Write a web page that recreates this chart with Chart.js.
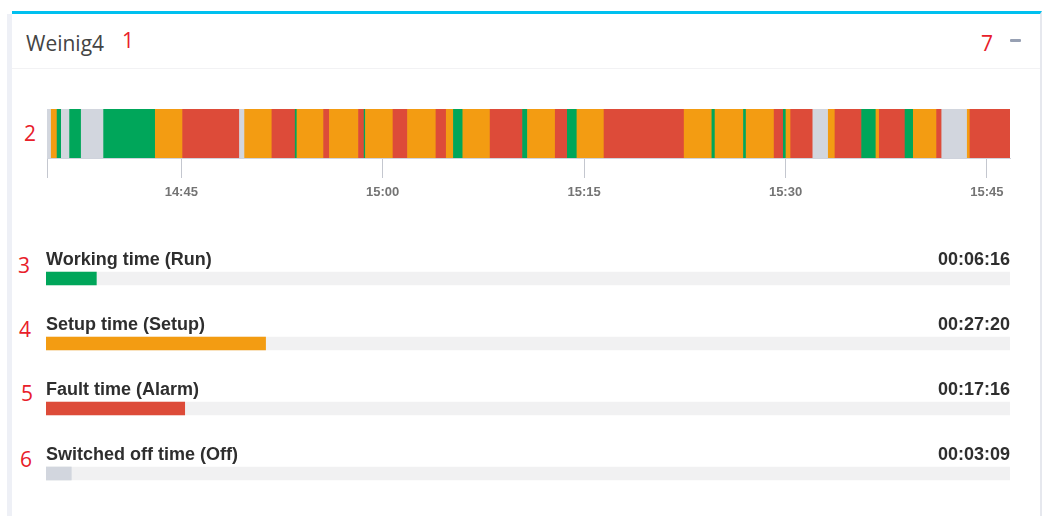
<!DOCTYPE html>
<html>
<head>
<meta charset="utf-8">
<script src="https://cdn.jsdelivr.net/npm/chart.js@4.4.1/dist/chart.umd.min.js"></script>
<style>
  body { margin: 0; width: 1045px; height: 516px; background: #fff; position: relative; overflow: hidden; font-family: "Liberation Sans", Arial, sans-serif; }
  .gutter { position: absolute; left: 7px; top: 14px; width: 5px; height: 510px; background: #eef0f6; }
  .card { position: absolute; left: 12px; top: 11px; width: 1028px; height: 520px; background: #fff; border-top: 3px solid #00c0ef; border-right: 2px solid #e6e8ee; }
  .card-head { position: absolute; left: 0; top: 0; width: 100%; height: 54px; border-bottom: 1px solid #f2f2f4; }
  .title { position: absolute; left: 14px; top: 19px; font: 21px/20px "Open Sans", sans-serif; color: #444; }
  .minus { position: absolute; left: 998px; top: 25px; width: 11px; height: 3px; background: #97a0b3; border-radius: 1px; }
  .mark { position: absolute; font: 21px/21px "Open Sans", sans-serif; color: #e8202a; transform: translate(-50%, -50%); }
  .box { position: absolute; }
</style>
</head>
<body>
<div class="gutter"></div>
<div class="card">
  <div class="card-head">
    <div class="title">Weinig4</div>
    <div class="minus"></div>
  </div>
</div>
<span class="mark" style="left:128px;top:40px">1</span>
<span class="mark" style="left:987px;top:43px">7</span>
<span class="mark" style="left:30px;top:133px">2</span>
<span class="mark" style="left:24px;top:265px">3</span>
<span class="mark" style="left:25px;top:329px">4</span>
<span class="mark" style="left:27px;top:393px">5</span>
<span class="mark" style="left:26px;top:459px">6</span>

<div class="box" style="left:40px;top:100px;width:980px;height:110px"><canvas id="timeline"></canvas></div>
<div class="box" style="left:46px;top:246px;width:964px;height:260px"><canvas id="totals"></canvas></div>

<script>
// machine state timeline (segment start times, state of each segment)
const segStart = [
  '14:35:00', '14:35:19', '14:35:45', '14:36:04', '14:36:41', '14:37:33', '14:39:13', '14:43:04',
  '14:45:06', '14:49:20', '14:49:43', '14:51:45', '14:53:29', '14:53:37', '14:55:36', '14:56:02',
  '14:58:12', '14:58:37', '14:58:43', '15:00:46', '15:01:51', '15:03:58', '15:04:44', '15:05:16',
  '15:05:58', '15:08:00', '15:10:25', '15:10:47', '15:12:51', '15:13:45', '15:14:28', '15:16:29',
  '15:22:27', '15:24:31', '15:24:45', '15:26:52', '15:27:04', '15:29:09', '15:29:50', '15:30:02',
  '15:30:23', '15:32:02', '15:33:11', '15:33:41', '15:35:40', '15:36:44', '15:36:59', '15:38:54',
  '15:39:31', '15:41:15', '15:41:38', '15:43:32', '15:43:44'
];
const segState = [
  'Off', 'Setup', 'Run', 'Off', 'Run', 'Off', 'Run', 'Setup',
  'Alarm', 'Off', 'Setup', 'Alarm', 'Run', 'Setup', 'Alarm', 'Setup',
  'Alarm', 'Run', 'Setup', 'Alarm', 'Setup', 'Alarm', 'Setup', 'Run',
  'Setup', 'Alarm', 'Run', 'Setup', 'Alarm', 'Run', 'Setup', 'Alarm',
  'Setup', 'Run', 'Setup', 'Run', 'Setup', 'Alarm', 'Run', 'Setup',
  'Alarm', 'Off', 'Setup', 'Alarm', 'Run', 'Setup', 'Alarm', 'Run',
  'Setup', 'Alarm', 'Off', 'Setup', 'Alarm'
];
const timelineEnd = '15:46:43';
const tickLabels = ['14:45', '15:00', '15:15', '15:30', '15:45'];

// totals per state
const stateNames = ['Working time (Run)', 'Setup time (Setup)', 'Fault time (Alarm)', 'Switched off time (Off)'];
const stateKeys = ['Run', 'Setup', 'Alarm', 'Off'];
const stateTotals = ['00:06:16', '00:27:20', '00:17:16', '00:03:09'];
const totalsMax = '02:00:00';

const stateColors = { Run: '#00a65a', Setup: '#f39c12', Alarm: '#dd4b39', Off: '#d2d6de' };

// 'HH:MM:SS' (or 'HH:MM') -> seconds
const toSec = t => {
  const p = t.split(':').map(Number);
  return p[0] * 3600 + p[1] * 60 + (p[2] || 0);
};
const pad = n => String(n).padStart(2, '0');
const fmtHM = s => pad(Math.floor(s / 3600)) + ':' + pad(Math.floor(s / 60) % 60);

const tMin = toSec(segStart[0]);
const tMax = toSec(timelineEnd);

const segments = segStart.map((s, i) => ({
  x: [toSec(s), toSec(i + 1 < segStart.length ? segStart[i + 1] : timelineEnd)],
  y: 'Weinig4',
  s: segState[i]
}));

// 1. Timeline
new Chart(document.getElementById('timeline'), {
  type: 'bar',
  data: {
    labels: ['Weinig4'],
    datasets: [{
      data: segments,
      backgroundColor: ctx => stateColors[ctx.raw.s],
      borderWidth: 0,
      grouped: false,
      barPercentage: 1,
      categoryPercentage: 1
    }]
  },
  options: {
    indexAxis: 'y',
    responsive: true,
    maintainAspectRatio: false,
    animation: false,
    layout: { padding: { left: 6.67, right: 10, top: 9, bottom: 3 } },
    plugins: { legend: { display: false }, tooltip: { enabled: false } },
    scales: {
      y: { display: false },
      x: {
        type: 'linear',
        min: tMin,
        max: tMax,
        afterBuildTicks: axis => {
          axis.ticks = [tMin, ...tickLabels.map(toSec)].map(v => ({ value: v }));
        },
        grid: { drawOnChartArea: false, drawTicks: true, tickLength: 20, color: '#c4c7cf', lineWidth: 1 },
        border: { display: true, color: '#cfd3dc' },
        ticks: {
          autoSkip: false,
          maxRotation: 0,
          padding: 7,
          color: '#747474',
          font: { family: '"Liberation Sans", Arial, sans-serif', size: 13, weight: 'bold' },
          callback: v => v === tMin ? '' : fmtHM(v)
        }
      }
    }
  }
});

// 2. Totals per state
const maxSec = toSec(totalsMax);
const labelPlugin = {
  id: 'rowLabels',
  afterDatasetsDraw(chart) {
    const { ctx, chartArea, scales } = chart;
    ctx.save();
    ctx.fillStyle = '#2e2e2e';
    ctx.font = 'bold 18px "Liberation Sans", Arial, sans-serif';
    ctx.textBaseline = 'alphabetic';
    stateNames.forEach((name, i) => {
      const y = scales.y.getPixelForValue(i) - 14;
      ctx.textAlign = 'left';
      ctx.fillText(name, chartArea.left, y);
      ctx.textAlign = 'right';
      ctx.fillText(stateTotals[i], chartArea.right, y);
    });
    ctx.restore();
  }
};

new Chart(document.getElementById('totals'), {
  type: 'bar',
  data: {
    labels: stateNames,
    datasets: [
      {
        data: stateTotals.map(toSec),
        backgroundColor: stateKeys.map(k => stateColors[k]),
        barThickness: 13,
        grouped: false,
        order: 1
      },
      {
        data: stateNames.map(() => maxSec),
        backgroundColor: '#f1f1f2',
        barThickness: 13,
        grouped: false,
        order: 2
      }
    ]
  },
  options: {
    indexAxis: 'y',
    responsive: true,
    maintainAspectRatio: false,
    animation: false,
    plugins: { legend: { display: false }, tooltip: { enabled: false } },
    scales: {
      x: { display: false, min: 0, max: maxSec },
      y: { display: false }
    }
  },
  plugins: [labelPlugin]
});
</script>
</body>
</html>
